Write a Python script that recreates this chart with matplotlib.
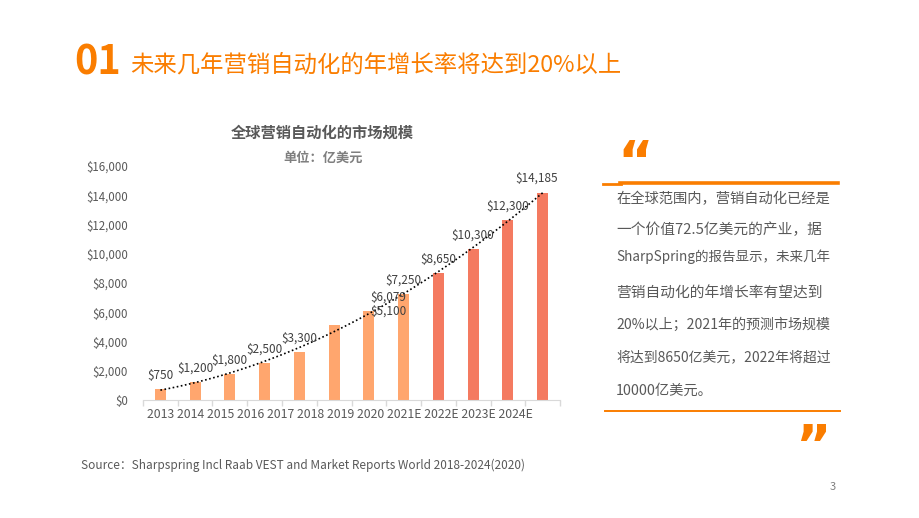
import matplotlib
matplotlib.use('Agg')
import matplotlib.pyplot as plt
from matplotlib.lines import Line2D
import numpy as np

plt.rcParams['font.family'] = ['Noto Sans CJK SC', 'DejaVu Sans']

# Data
years = ['2013', '2014', '2015', '2016', '2017', '2018', '2019', '2020',
         '2021E', '2022E', '2023E', '2024E']
market_size = [750, 1200, 1800, 2500, 3300, 5100, 6079, 7250, 8650, 10300, 12300, 14185]
highlight = [False] * 8 + [True] * 4
label_dx = [0, 0, 0, 0, 0, 54, 19, 0, 0, 0, 0, -6]

y_ticks = [0, 2000, 4000, 6000, 8000, 10000, 12000, 14000, 16000]

panel_lines = [
    '在全球范围内，营销自动化已经是',
    '一个价值72.5亿美元的产业，据',
    'SharpSpring的报告显示，未来几年',
    '营销自动化的年增长率有望达到',
    '20%以上；2021年的预测市场规模',
    '将达到8650亿美元，2022年将超过',
    '10000亿美元。',
]
panel_y = [199, 230, 257, 294, 325, 357, 391]

ORANGE = '#FA7D00'
LIGHT = '#FFA66E'
CORAL = '#F47A60'
GRAY = '#595959'

W, H = 920, 518
fig = plt.figure(figsize=(W / 100, H / 100), dpi=100)


def fx(px):
    return px / W


def fy(py):
    return 1 - py / H


# chart
ax = fig.add_axes([fx(143), fy(400), 417 / W, 234 / H])
x = np.arange(len(years))
colors = [CORAL if f else LIGHT for f in highlight]
ax.bar(x, market_size, width=0.32, color=colors, zorder=2)

coef = np.polyfit(x, market_size, 2)
xs = np.linspace(0, len(years) - 1, 200)
ax.plot(xs, np.polyval(coef, xs), color='black', lw=1.2,
        linestyle=(0, (1, 1.5)), zorder=3)

for i, v in enumerate(market_size):
    ax.annotate(f'${v:,}', xy=(i, v), xytext=(label_dx[i], 14),
                textcoords='offset pixels', ha='center', va='center',
                fontsize=8.5, color='#404040', zorder=4)

ax.set_xlim(-0.5, len(years) - 0.5)
ax.set_ylim(0, 16000)
ax.set_yticks(y_ticks)
ax.set_yticklabels([f'${t:,}' for t in y_ticks], fontsize=8.3, color=GRAY)
ax.tick_params(axis='y', length=0, pad=11)
ax.set_xticks(np.arange(-0.5, len(years), 1))
ax.set_xticklabels([])
ax.tick_params(axis='x', length=4, color='#D9D9D9', width=1)
for s in ['left', 'top', 'right']:
    ax.spines[s].set_visible(False)
ax.spines['bottom'].set_color('#D9D9D9')

# x labels are squeezed together in the source, written as one run
ax.text(-0.385, -0.06, ' '.join(years), transform=ax.get_xaxis_transform(),
        ha='left', va='center', fontsize=8.8, color=GRAY)

fig.text(fx(322), fy(133), '全球营销自动化的市场规模', ha='center', va='center',
         fontsize=11, color=GRAY, fontweight='bold')
fig.text(fx(323), fy(158), '单位：亿美元', ha='center', va='center',
         fontsize=9.5, color='#7F7F7F', fontweight='bold')

# heading
fig.text(fx(74), fy(63), '01', ha='left', va='center', fontsize=28.5,
         fontweight='bold', color=ORANGE)
fig.text(fx(130), fy(65), '未来几年营销自动化的年增长率将达到20%以上',
         ha='left', va='center', fontsize=16.8, color=ORANGE, fontweight='medium')

# right panel
fig.text(fx(617), fy(164), '\u201c', ha='left', va='center', fontsize=39,
         fontweight='bold', color=ORANGE, family='Liberation Sans Narrow')
fig.text(fx(795), fy(448), '\u201d', ha='left', va='center', fontsize=39,
         fontweight='bold', color=ORANGE, family='Liberation Sans Narrow')
fig.add_artist(Line2D([fx(620), fx(838)], [fy(182.5), fy(182.5)], color=ORANGE, lw=2.6))
fig.add_artist(Line2D([fx(603), fx(621)], [fy(184), fy(184)], color=ORANGE, lw=2))
fig.add_artist(Line2D([fx(605), fx(840)], [fy(410.5), fy(410.5)], color=ORANGE, lw=1.4))

# the text block is justified in the source: fit full lines to the box width
renderer = fig.canvas.get_renderer()
box_w = 214
for k, (line, yy) in enumerate(zip(panel_lines, panel_y)):
    t = fig.text(fx(616), fy(yy), line, ha='left', va='center', fontsize=10.3, color=GRAY)
    if k < len(panel_lines) - 1:
        w = t.get_window_extent(renderer).width
        t.set_fontsize(min(10.6, 10.3 * box_w / w))

fig.text(fx(81), fy(465), 'Source：Sharpspring Incl Raab VEST and Market Reports World 2018-2024(2020)',
         ha='left', va='center', fontsize=8.5, color=GRAY)
fig.text(fx(833), fy(487), '3', ha='center', va='center', fontsize=8, color='#7F7F7F')

fig.savefig('out.png', dpi=100)
